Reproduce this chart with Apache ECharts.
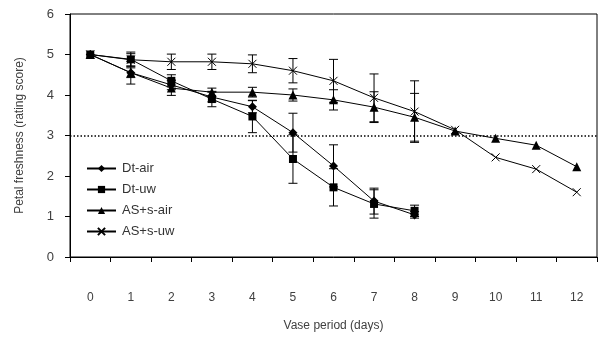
<!DOCTYPE html>
<html>
<head>
<meta charset="utf-8">
<script src="https://cdn.jsdelivr.net/npm/echarts@6/dist/echarts.min.js"></script>
<style>html,body{margin:0;padding:0;background:#fff;}#c{width:600px;height:338px;}</style>
</head>
<body>
<div id="c"></div>
<script>
const days = ['0','1','2','3','4','5','6','7','8','9','10','11','12'];
const yTicks = [0,1,2,3,4,5,6];
const threshold = 3;

const dtAir = [5.00, 4.55, 4.25, 3.95, 3.71, 3.07, 2.25, 1.38, 1.04];
const dtUw  = [5.00, 4.88, 4.35, 3.90, 3.47, 2.42, 1.72, 1.31, 1.14];
const asAir = [5.00, 4.55, 4.17, 4.07, 4.07, 4.00, 3.88, 3.70, 3.45, 3.11, 2.93, 2.76, 2.23];
const asUw  = [5.00, 4.87, 4.82, 4.82, 4.77, 4.60, 4.35, 3.93, 3.59, 3.14, 2.46, 2.17, 1.60];

const dtAirErr = [0, 0.12, 0.12, 0.12, 0.15, 0.48, 0.52, 0.32, 0.08];
const dtUwErr  = [0, 0.18, 0.15, 0.19, 0.40, 0.60, 0.46, 0.35, 0.14];
const asAirErr = [0, 0.28, 0.18, 0.10, 0.12, 0.15, 0.25, 0.38, 0.59];
const asUwErr  = [0, 0.15, 0.19, 0.19, 0.22, 0.30, 0.53, 0.59, 0.76];

const names = ['Dt-air', 'Dt-uw', 'AS+s-air', 'AS+s-uw'];

const errData = [];
[[dtAir, dtAirErr], [dtUw, dtUwErr], [asAir, asAirErr], [asUw, asUwErr]].forEach(function (p) {
  p[1].forEach(function (e, i) {
    if (e > 0) errData.push([i, p[0][i] - e, p[0][i] + e]);
  });
});

const textColor = '#404040';
const font = 'Liberation Sans, Arial, sans-serif';

function lineSeries(name, data, symbol, size, extra) {
  const s = {
    name: name, type: 'line', data: data, symbol: symbol, symbolSize: size,
    lineStyle: { color: '#000', width: 1 },
    itemStyle: { color: '#000' },
    z: 3
  };
  return Object.assign(s, extra || {});
}

const chart = echarts.init(document.getElementById('c'), null, { renderer: 'canvas' });
chart.setOption({
  animation: false,
  backgroundColor: '#fff',
  textStyle: { fontFamily: font },
  grid: { left: 70, right: 3, top: 14, bottom: 81, show: true, borderColor: '#000', borderWidth: 1, backgroundColor: 'transparent' },
  legend: {
    orient: 'vertical', left: 81, top: 157,
    itemWidth: 29, itemHeight: 9, itemGap: 8,
    data: names,
    textStyle: { color: '#333', fontSize: 13, fontFamily: font, padding: [0, 0, 0, 1] }
  },
  xAxis: {
    type: 'category', data: days, boundaryGap: true,
    name: 'Vase period (days)', nameLocation: 'middle', nameGap: 63,
    nameTextStyle: { color: textColor, fontSize: 12, fontFamily: font },
    axisLine: { lineStyle: { color: '#000', width: 1 } },
    axisTick: { show: true, inside: false, length: 5, lineStyle: { color: '#000' } },
    axisLabel: { color: textColor, fontSize: 12, margin: 35, fontFamily: font },
    splitLine: { show: false }
  },
  yAxis: {
    type: 'value', min: yTicks[0], max: yTicks[yTicks.length - 1], interval: 1,
    name: 'Petal freshness (rating score)', nameLocation: 'middle', nameGap: 44,
    nameTextStyle: { color: textColor, fontSize: 12, fontFamily: font },
    axisLine: { show: true, lineStyle: { color: '#000', width: 1 } },
    axisTick: { show: true, inside: false, length: 5, lineStyle: { color: '#000' } },
    axisLabel: { color: textColor, fontSize: 13, margin: 16, fontFamily: font },
    splitLine: { show: false }
  },
  series: [
    lineSeries(names[0], dtAir, 'diamond', 9),
    lineSeries(names[1], dtUw, 'rect', 8),
    lineSeries(names[2], asAir, 'triangle', 9, {
      markLine: {
        silent: true, symbol: 'none', label: { show: false },
        lineStyle: { color: '#000', type: [1.5, 2], width: 1.5 },
        data: [{ yAxis: threshold }]
      }
    }),
    lineSeries(names[3], asUw, 'path://M0,0L10,10M10,0L0,10', 8, {
      itemStyle: { color: 'rgba(0,0,0,0)', borderColor: '#000', borderWidth: 1 }
    }),
    {
      name: 'err', type: 'custom', data: errData, z: 2,
      renderItem: function (params, api) {
        const idx = api.value(0);
        const lo = api.coord([idx, api.value(1)]);
        const hi = api.coord([idx, api.value(2)]);
        const w = 4.5;
        const st = { stroke: '#000', lineWidth: 1 };
        return {
          type: 'group',
          children: [
            { type: 'line', shape: { x1: lo[0], y1: lo[1], x2: hi[0], y2: hi[1] }, style: st },
            { type: 'line', shape: { x1: lo[0] - w, y1: lo[1], x2: lo[0] + w, y2: lo[1] }, style: st },
            { type: 'line', shape: { x1: hi[0] - w, y1: hi[1], x2: hi[0] + w, y2: hi[1] }, style: st }
          ]
        };
      }
    }
  ]
});
</script>
</body>
</html>
